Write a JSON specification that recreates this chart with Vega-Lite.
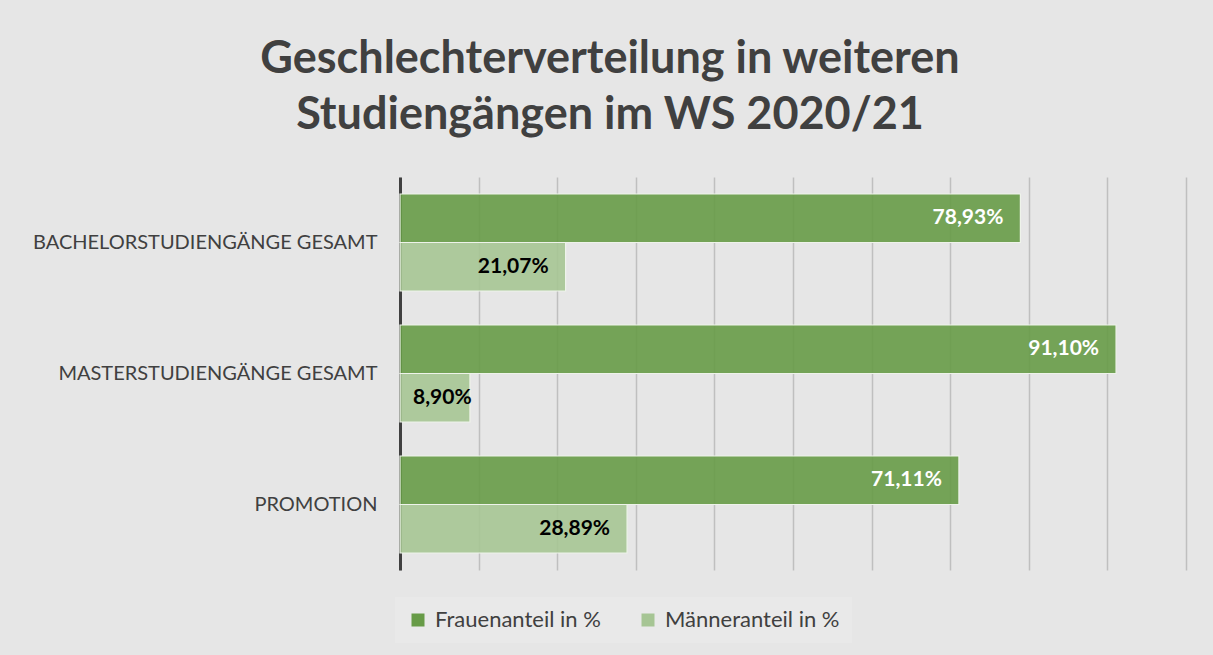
{
  "$schema": "https://vega.github.io/schema/vega-lite/v6.json",
  "width": 786,
  "height": 393,
  "autosize": {"type": "none"},
  "padding": {"left": 400, "top": 177, "right": 27, "bottom": 85},
  "background": "#e6e6e6",
  "title": {
    "text": ["Geschlechterverteilung in weiteren", "Studiengängen im WS 2020/21"],
    "font": "Lato",
    "fontSize": 45,
    "fontWeight": "bold",
    "color": "#404040",
    "anchor": "middle",
    "dx": -183,
    "lineHeight": 56,
    "offset": 39
  },
  "config": {
    "locale": {"number": {"decimal": ",", "thousands": ".", "grouping": [3], "currency": ["", " €"]}},
    "view": {"stroke": null},
    "font": "Lato"
  },
  "data": {
    "values": [
      {"kategorie": "BACHELORSTUDIENGÄNGE GESAMT", "serie": "Frauenanteil in %", "anteil": 0.7893},
      {"kategorie": "BACHELORSTUDIENGÄNGE GESAMT", "serie": "Männeranteil in %", "anteil": 0.2107},
      {"kategorie": "MASTERSTUDIENGÄNGE GESAMT", "serie": "Frauenanteil in %", "anteil": 0.911},
      {"kategorie": "MASTERSTUDIENGÄNGE GESAMT", "serie": "Männeranteil in %", "anteil": 0.089},
      {"kategorie": "PROMOTION", "serie": "Frauenanteil in %", "anteil": 0.7111},
      {"kategorie": "PROMOTION", "serie": "Männeranteil in %", "anteil": 0.2889}
    ]
  },
  "encoding": {
    "y": {
      "field": "kategorie",
      "type": "nominal",
      "sort": null,
      "scale": {"paddingInner": 0, "paddingOuter": 0},
      "axis": {
        "title": null,
        "ticks": false,
        "domainColor": "#404040",
        "domainWidth": 3,
        "labelFont": "Lato",
        "labelFontSize": 20,
        "labelColor": "#404040",
        "labelPadding": 23,
        "labelLimit": 400
      }
    },
    "yOffset": {
      "field": "serie",
      "type": "nominal",
      "scale": {"paddingInner": 0, "paddingOuter": 0.35}
    },
    "x": {
      "field": "anteil",
      "type": "quantitative",
      "scale": {"domain": [0, 1], "nice": false},
      "axis": {
        "title": null,
        "labels": false,
        "ticks": false,
        "domain": false,
        "values": [0, 0.1, 0.2, 0.3, 0.4, 0.5, 0.6, 0.7, 0.8, 0.9, 1.0],
        "gridColor": "#bfbfbf",
        "gridWidth": 1.5
      }
    }
  },
  "layer": [
    {
      "mark": {"type": "bar", "stroke": "#eef3ea", "strokeWidth": 1.2, "fillOpacity": 0.9},
      "encoding": {
        "color": {
          "field": "serie",
          "type": "nominal",
          "scale": {"domain": ["Frauenanteil in %", "Männeranteil in %"], "range": ["#679b47", "#a6c594"]},
          "legend": {
            "title": null,
            "orient": "none",
            "direction": "horizontal",
            "legendX": -5,
            "legendY": 420,
            "symbolType": "square",
            "symbolSize": 169,
            "symbolStrokeWidth": 0,
            "labelFont": "Lato",
            "labelFontSize": 22,
            "labelOffset": 6,
            "labelColor": "#404040",
            "columnPadding": 36,
            "padding": 12,
            "fillColor": "#e9e9e9",
            "labelLimit": 300
          }
        }
      }
    },
    {
      "transform": [{"filter": "datum.anteil >= 0.1"}],
      "mark": {"type": "text", "align": "right", "baseline": "middle", "dx": -17, "font": "Lato", "fontSize": 21, "fontWeight": "bold"},
      "encoding": {
        "text": {"field": "anteil", "type": "quantitative", "format": ".2%"},
        "color": {
          "condition": {"test": "datum.serie === 'Frauenanteil in %'", "value": "#ffffff"},
          "value": "#000000"
        }
      }
    },
    {
      "transform": [{"filter": "datum.anteil < 0.1"}],
      "mark": {"type": "text", "align": "left", "baseline": "middle", "dx": 13, "font": "Lato", "fontSize": 21, "fontWeight": "bold", "color": "#000000"},
      "encoding": {
        "x": {"datum": 0, "type": "quantitative"},
        "text": {"field": "anteil", "type": "quantitative", "format": ".2%"}
      }
    }
  ]
}
